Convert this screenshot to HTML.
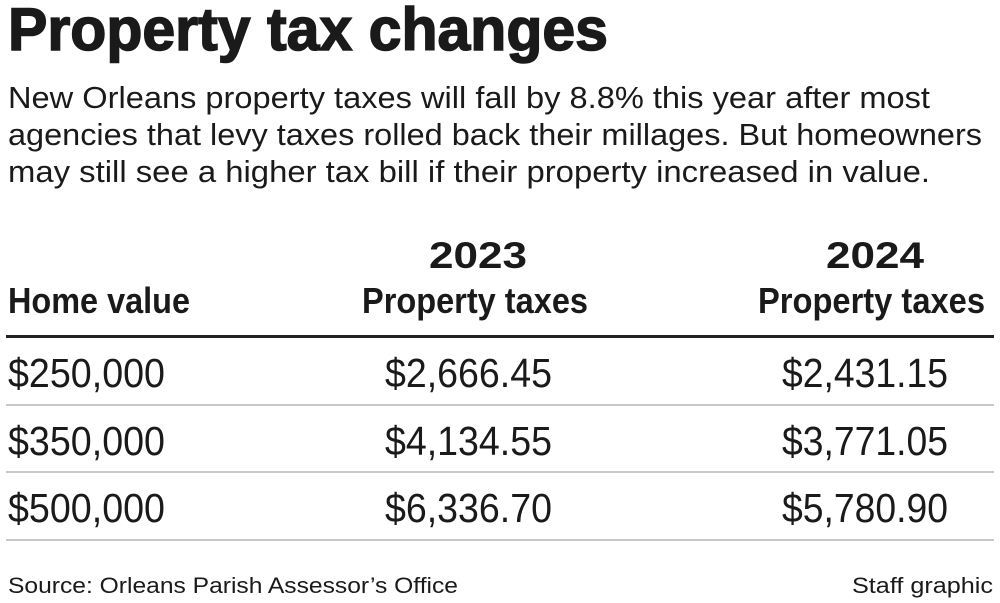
<!DOCTYPE html>
<html><head><meta charset="utf-8"><style>
html,body{margin:0;padding:0;background:#fff;}
svg{display:block}
text{font-family:"Liberation Sans",sans-serif;fill:#1a1a1a}
</style></head><body>
<svg width="1000" height="603" viewBox="0 0 1000 603">
<text x="8" y="50" font-size="60" font-weight="bold" textLength="600" lengthAdjust="spacingAndGlyphs" stroke="#1a1a1a" stroke-width="1.5">Property tax changes</text>
<text x="8" y="108" font-size="31" textLength="922" lengthAdjust="spacingAndGlyphs">New Orleans property taxes will fall by 8.8% this year after most</text>
<text x="8" y="145" font-size="31" textLength="974" lengthAdjust="spacingAndGlyphs">agencies that levy taxes rolled back their millages. But homeowners</text>
<text x="8" y="182" font-size="31" textLength="922" lengthAdjust="spacingAndGlyphs">may still see a higher tax bill if their property increased in value.</text>
<text x="429" y="268" font-size="37" font-weight="bold" textLength="98" lengthAdjust="spacingAndGlyphs">2023</text>
<text x="826" y="268" font-size="37" font-weight="bold" textLength="98" lengthAdjust="spacingAndGlyphs">2024</text>
<text x="8" y="313" font-size="36" font-weight="bold" textLength="182" lengthAdjust="spacingAndGlyphs">Home value</text>
<text x="362" y="313" font-size="36" font-weight="bold" textLength="226" lengthAdjust="spacingAndGlyphs">Property taxes</text>
<text x="758" y="313" font-size="36" font-weight="bold" textLength="227" lengthAdjust="spacingAndGlyphs">Property taxes</text>
<rect x="6" y="335" width="988" height="3" fill="#222"/>
<rect x="6" y="404" width="988" height="2" fill="#c8c8c8"/>
<rect x="6" y="471" width="988" height="2" fill="#c8c8c8"/>
<rect x="6" y="539" width="988" height="2" fill="#c8c8c8"/>
<g font-size="41">
<text x="8" y="387" textLength="157" lengthAdjust="spacingAndGlyphs">$250,000</text>
<text x="385" y="387" textLength="167" lengthAdjust="spacingAndGlyphs">$2,666.45</text>
<text x="782" y="387" textLength="166" lengthAdjust="spacingAndGlyphs">$2,431.15</text>
<text x="8" y="455" textLength="157" lengthAdjust="spacingAndGlyphs">$350,000</text>
<text x="385" y="455" textLength="167" lengthAdjust="spacingAndGlyphs">$4,134.55</text>
<text x="782" y="455" textLength="166" lengthAdjust="spacingAndGlyphs">$3,771.05</text>
<text x="8" y="522" textLength="157" lengthAdjust="spacingAndGlyphs">$500,000</text>
<text x="385" y="522" textLength="167" lengthAdjust="spacingAndGlyphs">$6,336.70</text>
<text x="782" y="522" textLength="166" lengthAdjust="spacingAndGlyphs">$5,780.90</text>
</g>
<text x="8" y="593" font-size="22" textLength="450" lengthAdjust="spacingAndGlyphs" fill="#333">Source: Orleans Parish Assessor’s Office</text>
<text x="852" y="593" font-size="22" textLength="141" lengthAdjust="spacingAndGlyphs" fill="#333">Staff graphic</text>
</svg>
</body></html>
